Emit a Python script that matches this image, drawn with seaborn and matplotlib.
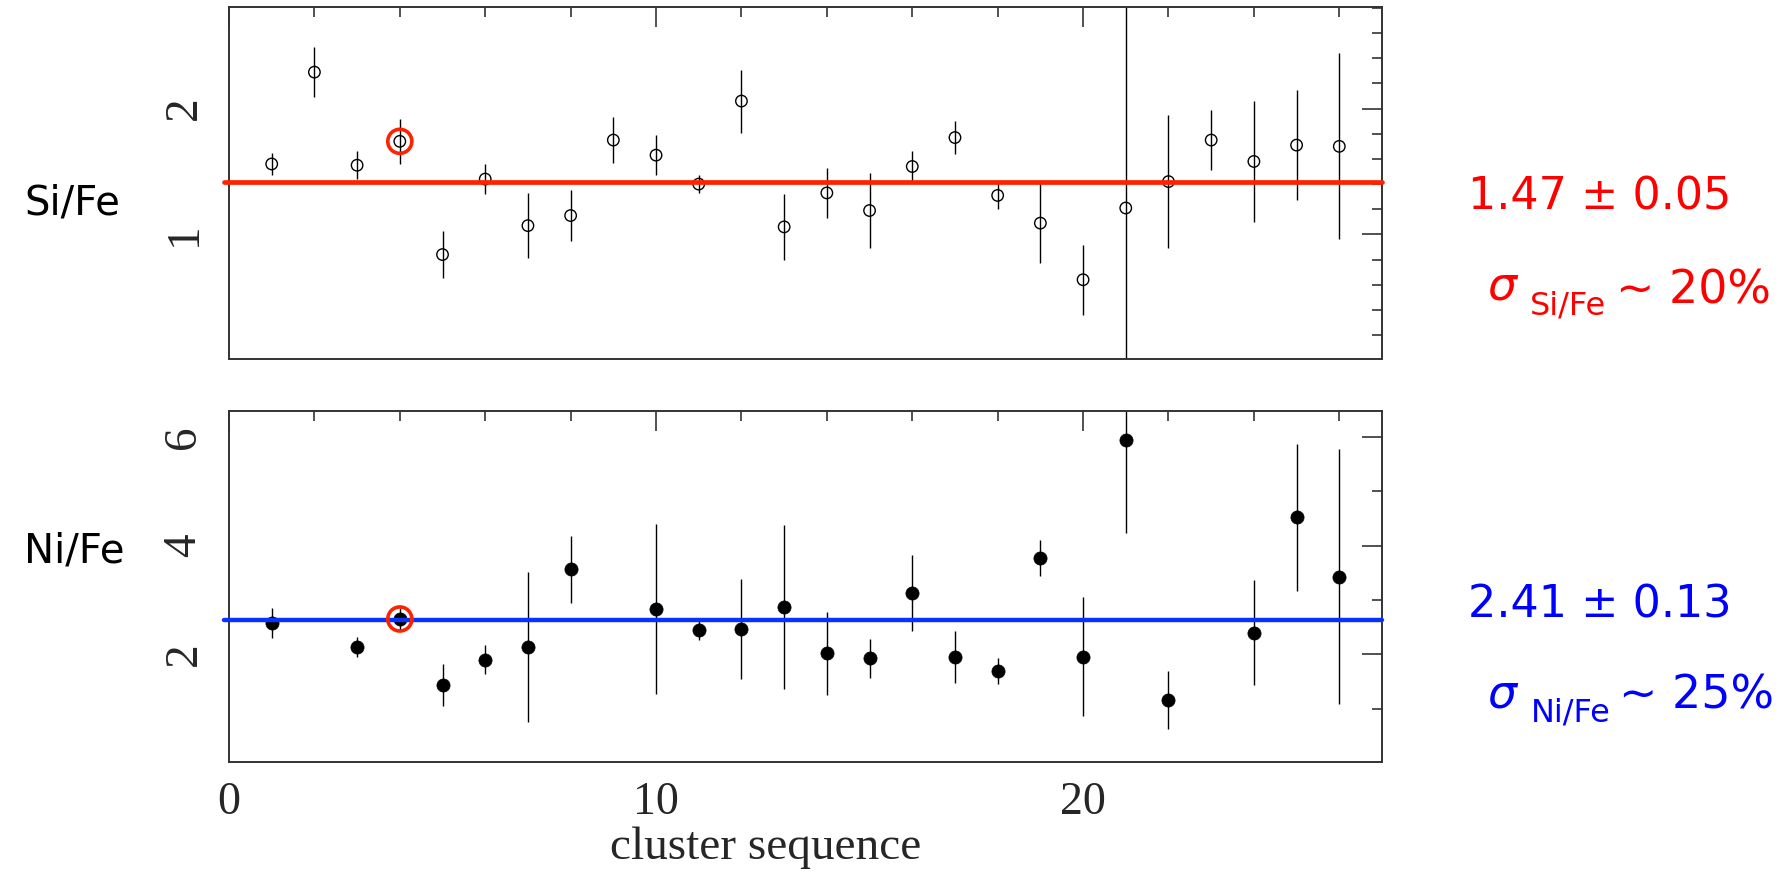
import numpy as np
import pandas as pd
import matplotlib
matplotlib.use("Agg")
import matplotlib.pyplot as plt
import seaborn as sns
from matplotlib.ticker import MultipleLocator

# ---------------- data ----------------
si_cluster = list(range(1, 27))
si_fe = [1.56, 2.29, 1.55, 1.74, 0.84, 1.44, 1.07, 1.15, 1.75, 1.63, 1.40, 2.06,
         1.06, 1.33, 1.19, 1.54, 1.77, 1.31, 1.09, 0.64, 1.21, 1.42, 1.75, 1.58, 1.71, 1.70]
si_err = [0.09, 0.20, 0.11, 0.18, 0.19, 0.12, 0.26, 0.20, 0.18, 0.16, 0.07, 0.25,
          0.26, 0.20, 0.30, 0.12, 0.13, 0.11, 0.32, 0.28, 2.00, 0.53, 0.24, 0.48, 0.44, 0.74]

ni_cluster = [1, 3, 4, 5, 6, 7, 8, 10, 11, 12, 13, 14, 15, 16, 17, 18, 19, 20, 21, 22, 24, 25, 26]
ni_fe = [2.58, 2.14, 2.65, 1.44, 1.90, 2.14, 3.56, 2.83, 2.45, 2.47, 2.87, 2.02, 1.93,
         3.12, 1.95, 1.69, 3.77, 1.96, 5.94, 1.16, 2.40, 4.52, 3.43]
ni_err = [0.28, 0.18, 0.20, 0.39, 0.27, 1.38, 0.61, 1.56, 0.19, 0.92, 1.50, 0.76, 0.36,
          0.70, 0.48, 0.24, 0.33, 1.10, 1.70, 0.53, 0.96, 1.35, 2.35]

si_mean_line = 1.42
ni_mean_line = 2.63
highlight_cluster = 4

panel_labels = ["Si/Fe", "Ni/Fe"]
si_text = "1.47 \u00b1 0.05"
ni_text = "2.41 \u00b1 0.13"
si_sigma = ("Si/Fe", "~ 20%")
ni_sigma = ("Ni/Fe", "~ 25%")
x_label = "cluster sequence"

# ---------------- style ----------------
sns.set_theme(style="white")
plt.rcParams["font.family"] = ["Liberation Serif", "DejaVu Serif"]

W, H = 1784, 880
fig = plt.figure(figsize=(W / 100, H / 100), dpi=100)

def fx(px):
    return px / W

def fy(py):
    return 1 - py / H

ax1 = fig.add_axes([fx(229), fy(359), fx(1382 - 229), (359 - 6.7) / H])
ax2 = fig.add_axes([fx(229), fy(762), fx(1382 - 229), (762 - 410.7) / H])

si_df = pd.DataFrame({"cluster": si_cluster, "ratio": si_fe, "err": si_err})
ni_df = pd.DataFrame({"cluster": ni_cluster, "ratio": ni_fe, "err": ni_err})

# top panel
ax1.errorbar(si_df["cluster"], si_df["ratio"], yerr=si_df["err"], fmt="none",
             ecolor="black", elinewidth=1.0, capsize=0, zorder=2)
sns.scatterplot(data=si_df, x="cluster", y="ratio", ax=ax1, marker="o", s=68,
                facecolor="none", edgecolor="black", linewidth=1.0, zorder=3, legend=False)
ax1.axhline(si_mean_line, xmin=-0.004, xmax=1, color="#ff2200", lw=3.4, zorder=4, clip_on=False)
hl_si = si_df[si_df["cluster"] == highlight_cluster]
sns.scatterplot(data=hl_si, x="cluster", y="ratio", ax=ax1, marker="o", s=300,
                facecolor="none", edgecolor="#ff2200", linewidth=2.6, zorder=5, legend=False)

# bottom panel
ax2.errorbar(ni_df["cluster"], ni_df["ratio"], yerr=ni_df["err"], fmt="none",
             ecolor="black", elinewidth=1.0, capsize=0, zorder=2)
sns.scatterplot(data=ni_df, x="cluster", y="ratio", ax=ax2, marker="o", s=90,
                color="black", edgecolor="black", linewidth=0.5, zorder=3, legend=False)
ax2.axhline(ni_mean_line, xmin=-0.004, xmax=1, color="#0a32ff", lw=3.2, zorder=4, clip_on=False)
hl_ni = ni_df[ni_df["cluster"] == highlight_cluster]
sns.scatterplot(data=hl_ni, x="cluster", y="ratio", ax=ax2, marker="o", s=300,
                facecolor="none", edgecolor="#ff2200", linewidth=2.6, zorder=5, legend=False)

ax1.set_ylim(0.01, 2.81)
ax2.set_ylim(0.02, 6.48)
for ax in (ax1, ax2):
    ax.set_xlim(0, 27)
    ax.xaxis.set_major_locator(MultipleLocator(10))
    ax.xaxis.set_minor_locator(MultipleLocator(2))
    ax.tick_params(which="both", direction="in", top=True, right=True,
                   color="#222222", width=1.1)
    ax.tick_params(which="major", length=14.5)
    ax.tick_params(which="minor", length=7.5)
    ax.tick_params(axis="y", labelsize=34, pad=17, labelrotation=90)
    ax.tick_params(axis="x", labelsize=33, pad=14)
    for s in ax.spines.values():
        s.set_color("#333333")
        s.set_linewidth(1.4)
    ax.set_ylabel("")
    ax.set_xlabel("")

ax1.yaxis.set_major_locator(MultipleLocator(1))
ax1.yaxis.set_minor_locator(MultipleLocator(0.2))
ax2.yaxis.set_major_locator(MultipleLocator(2))
ax2.yaxis.set_minor_locator(MultipleLocator(1))
ax1.tick_params(axis="x", labelbottom=False)
for ax in (ax1, ax2):
    for lbl in ax.get_yticklabels():
        lbl.set_va("center")

ax2.set_xlabel(x_label, fontsize=34, labelpad=2)
ax2.xaxis.label.set_x((766 - 229) / (1382 - 229))

# left labels
fig.text(fx(72), fy(214), panel_labels[0], fontsize=29, family="DejaVu Sans",
         ha="center", va="baseline", color="black")
fig.text(fx(74), fy(563), panel_labels[1], fontsize=29, family="DejaVu Sans",
         ha="center", va="baseline", color="black")

# right annotations
def annot(y_main, y_sig, y_sub, y_pct, txt, sig, color, x_sub, x_pct):
    fig.text(fx(1468), fy(y_main), txt, fontsize=32, family="DejaVu Sans",
             ha="left", va="baseline", color=color)
    fig.text(fx(1488), fy(y_sig), "\u03c3", fontsize=33, family="DejaVu Sans",
             style="italic", ha="left", va="baseline", color=color)
    fig.text(fx(x_sub), fy(y_sub), sig[0], fontsize=23, family="DejaVu Sans",
             ha="left", va="baseline", color=color)
    fig.text(fx(x_pct), fy(y_pct), sig[1], fontsize=33, family="DejaVu Sans",
             ha="left", va="baseline", color=color)

annot(210, 300, 315, 303, si_text, si_sigma, "#ff0000", 1530, 1616)
annot(618, 707, 721, 708, ni_text, ni_sigma, "#0000ff", 1531, 1619)

fig.savefig("out.png", dpi=100, facecolor="white")
